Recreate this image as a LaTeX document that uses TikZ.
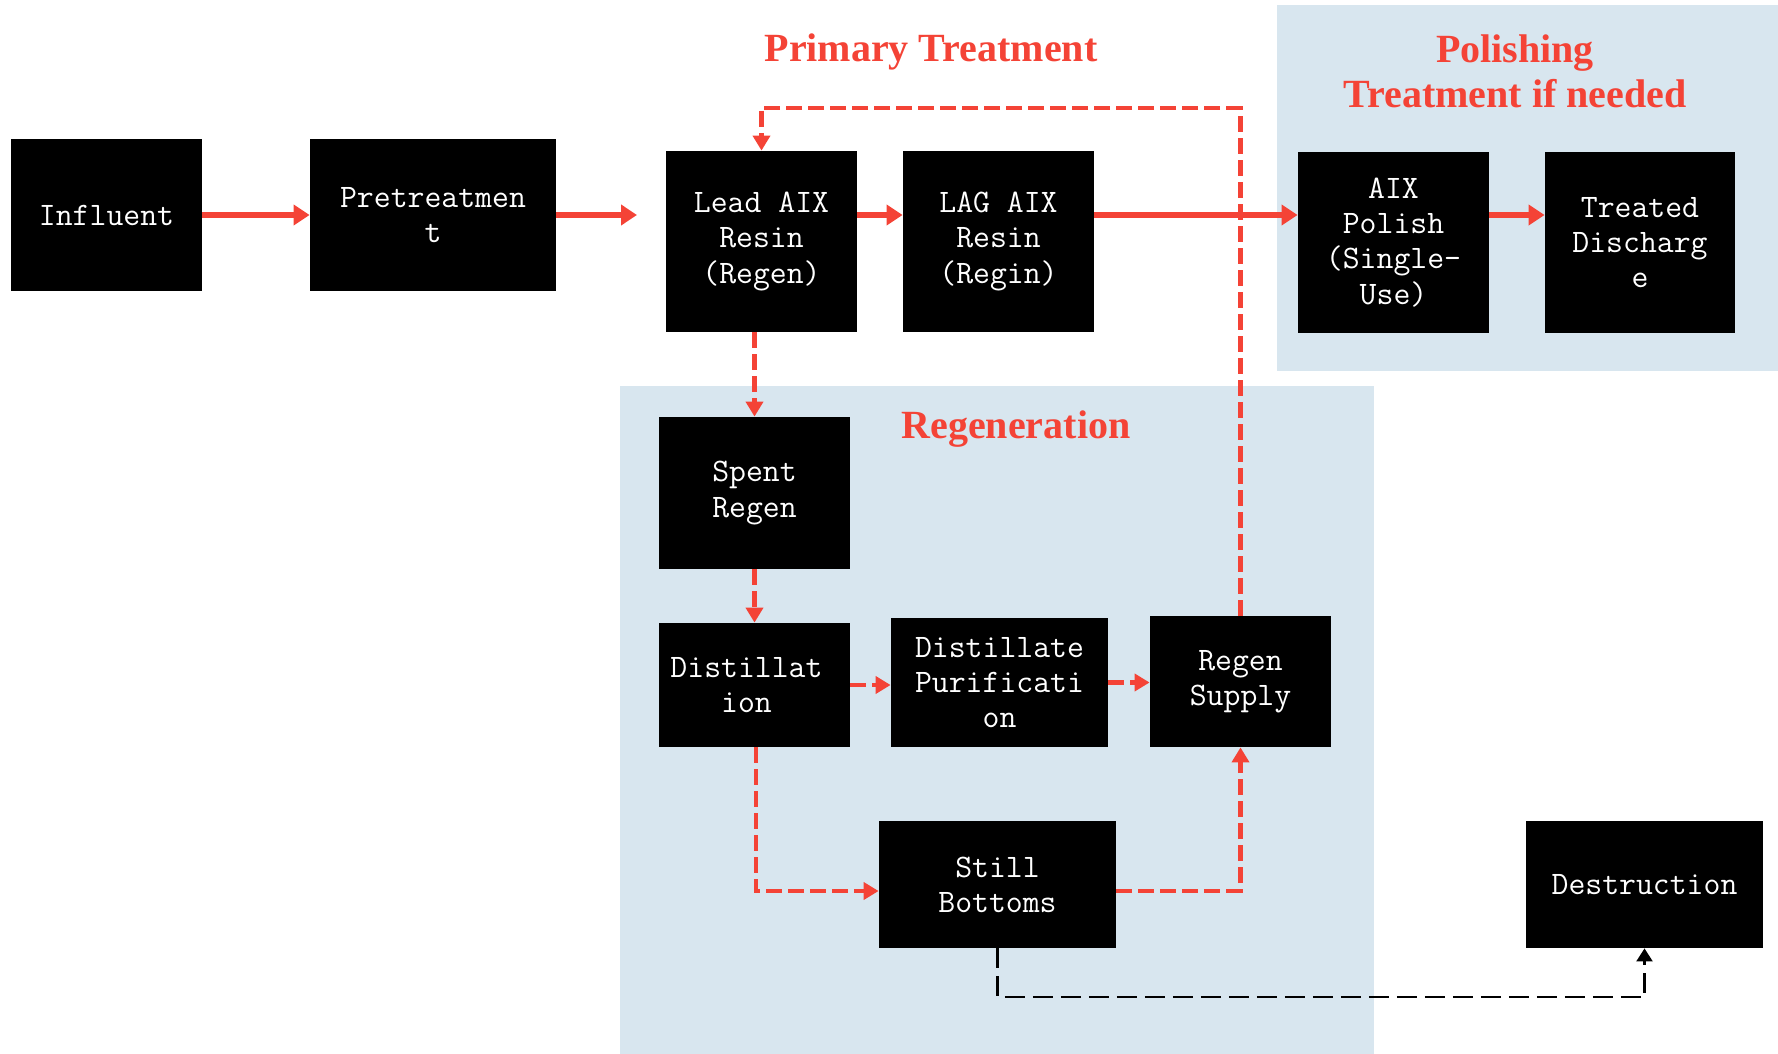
\documentclass[tikz,border=0pt]{standalone}
\usepackage{fontspec}
\setmainfont{Liberation Serif}
\usetikzlibrary{arrows.meta}

\definecolor{flowred}{RGB}{244,67,54}
\definecolor{zoneblue}{RGB}{216,230,239}

\tikzset{
    unit/.style={fill=black, text=white, inner sep=0pt, align=center,
        font=\ttfamily\fontsize{16.4}{17.6}\selectfont},
    heading/.style={text=flowred, align=center,
        font=\bfseries\fontsize{20}{22.5}\selectfont},
    zone/.style={fill=zoneblue},
    flow/.style={flowred, line width=2.6pt, -{Triangle[length=8pt,width=10pt]}},
    regenflow/.style={flowred, line width=2.4pt, dash pattern=on 8pt off 3pt,
        -{Triangle[length=7.5pt,width=8.5pt]}},
    wasteflow/.style={black, line width=1.1pt, dash pattern=on 10pt off 4pt,
        -{Triangle[length=6.5pt,width=8pt]}}
}

\begin{document}
\begin{tikzpicture}[x=0.5pt, y=-0.5pt]
    \useasboundingbox (0,0) rectangle (1778,1054);
    \fill[zone] (1277,5) rectangle (1778,371);
    \fill[zone] (620,386) rectangle (1374,1054);

    \node[heading] (primary) at (931,52) {Primary Treatment};
    \node[heading] (polishing) at (1515,71) {Polishing\\Treatment if needed};
    \node[heading] (regeneration) at (1016,429) {Regeneration};

    \node[unit, minimum width=95.5pt, minimum height=76pt] (in) at (106.5,215) {Influent};
    \node[unit, minimum width=123pt, minimum height=76pt] (pre) at (433,215) {Pretreatmen\\t};
    \coordinate (outlet) at (637,215);
    \node[unit, minimum width=95.5pt, minimum height=90.5pt] (lead) at (761.5,241.5) {Lead AIX\\Resin\\(Regen)};
    \node[unit, minimum width=95.5pt, minimum height=90.5pt] (lag) at (998.5,241.5) {LAG AIX\\Resin\\(Regin)};
    \node[unit, minimum width=95.5pt, minimum height=90.5pt] (aix) at (1393.5,242.5) {AIX\\Polish\\(Single-\\Use)};
    \node[unit, minimum width=95pt, minimum height=90.5pt] (out) at (1640,242.5) {Treated\\Discharg\\e};

    \node[unit, minimum width=95.5pt, minimum height=76pt] (spent) at (754.5,493) {Spent\\Regen};
    \node[unit, minimum width=95.5pt, minimum height=62pt] (distill) at (754.5,685) {\hspace*{-8pt}Distillat\\\hspace*{-8pt}ion};
    \node[unit, minimum width=108.5pt, minimum height=64.5pt] (purif) at (999.5,682.5) {Distillate\\Purificati\\on};
    \node[unit, minimum width=90.5pt, minimum height=65.5pt] (supply) at (1240.5,681.5) {Regen\\Supply};
    \node[unit, minimum width=118.5pt, minimum height=63.5pt] (still) at (997.5,884.5) {Still\\Bottoms};
    \node[unit, minimum width=118.5pt, minimum height=63.5pt] (destroy) at (1644.5,884.5) {Destruction};
    \coordinate (loop) at (1240.5,108);
    \coordinate (sump) at (756,891);
    \coordinate (drain) at (997.5,997);

    \draw[regenflow] (supply.north) -- (loop) -| (lead.north);
    \draw[flow] (in.east) -- (pre.west);
    \draw[flow] (pre.east) -- (outlet);
    \draw[flow] (lead.east |- outlet) -- (lag.west |- outlet);
    \draw[flow] (lag.east |- outlet) -- (aix.west |- outlet);
    \draw[flow] (aix.east |- outlet) -- (out.west |- outlet);

    \draw[regenflow] (spent.north |- lead.south) -- (spent.north);
    \draw[regenflow] (spent.south) -- (distill.north);
    \draw[regenflow] (distill.east) -- (purif.west |- distill.east);
    \draw[regenflow] (purif.east) -- (supply.west |- purif.east);
    \draw[regenflow] (distill.south -| sump) -- (sump) -- (still.west |- sump);
    \draw[regenflow] (still.east |- sump) -| (supply.south);
    \draw[wasteflow] (still.south) -- (drain) -| (destroy.south);
\end{tikzpicture}
\end{document}
